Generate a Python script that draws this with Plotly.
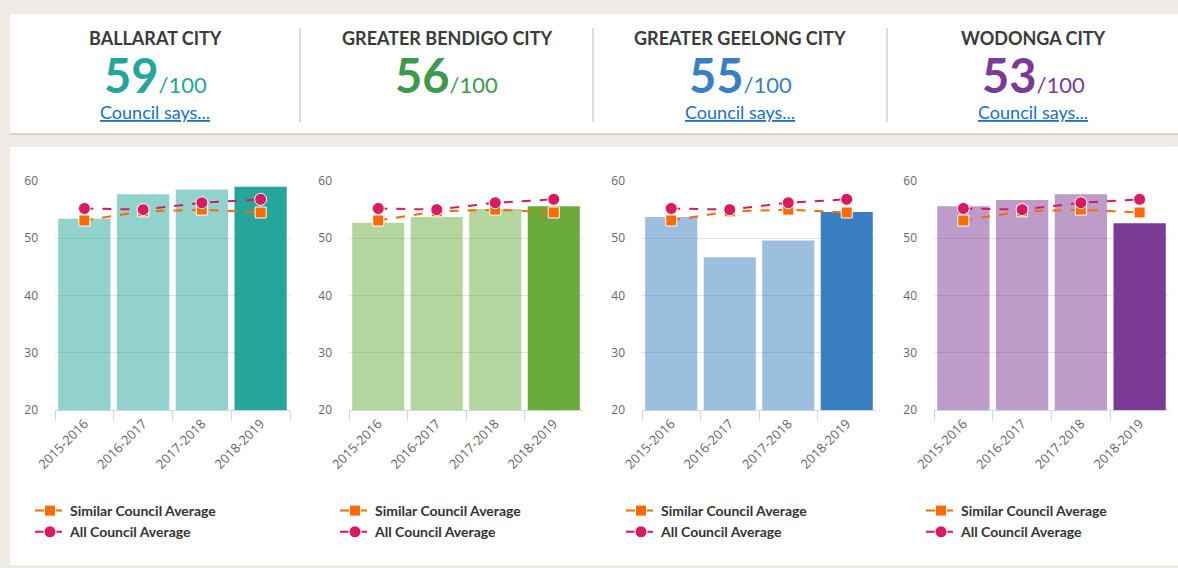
import plotly.graph_objects as go

years = ["2015-2016", "2016-2017", "2017-2018", "2018-2019"]
councils = ["BALLARAT CITY", "GREATER BENDIGO CITY", "GREATER GEELONG CITY", "WODONGA CITY"]
scores = [59, 56, 55, 53]
has_link = [True, False, True, True]

ballarat = [53.4, 57.7, 58.5, 59.0]
bendigo = [52.7, 53.7, 55.1, 55.6]
geelong = [53.7, 46.7, 49.6, 54.6]
wodonga = [55.6, 56.7, 57.7, 52.6]
council_values = [ballarat, bendigo, geelong, wodonga]

similar_avg = [53.1, 54.7, 55.0, 54.5]
all_avg = [55.2, 55.0, 56.2, 56.8]

dark_colors = ["#26a69a", "#6aab3c", "#3a7fc1", "#7b3a96"]
light_colors = ["rgba(38,166,154,0.5)", "rgba(106,171,60,0.5)",
                "rgba(58,127,193,0.5)", "rgba(123,58,150,0.5)"]
score_colors = ["#26a69a", "#3d9a4a", "#3a7fc1", "#7b3a96"]

W, H = 1178, 568
px_x = lambda v: v / W
px_y = lambda v: 1 - v / H

x_domains = [(55, 290), (349, 583), (642, 876), (934, 1169)]
header_cx = [155, 447, 740, 1033]
legend_x = [30, 335, 621, 921]

fig = go.Figure()
legend_names = ["legend", "legend2", "legend3", "legend4"]

for i in range(4):
    xa = "x" if i == 0 else f"x{i+1}"
    ya = "y" if i == 0 else f"y{i+1}"
    bar_colors = [light_colors[i]] * 3 + [dark_colors[i]]
    fig.add_trace(go.Bar(x=years, y=council_values[i], marker=dict(color=bar_colors, line=dict(width=0)),
                         xaxis=xa, yaxis=ya, showlegend=False, hoverinfo="y"))
    fig.add_trace(go.Scatter(x=years, y=similar_avg, mode="lines+markers",
                             name="<b>Similar Council Average</b>",
                             line=dict(color="#ff6a00", width=2, dash="dash"),
                             marker=dict(symbol="square", size=11, color="#ff6a00",
                                         line=dict(color="white", width=1)),
                             xaxis=xa, yaxis=ya, legend=legend_names[i]))
    fig.add_trace(go.Scatter(x=years, y=all_avg, mode="lines+markers",
                             name="<b>All Council Average</b>",
                             line=dict(color="#d81b60", width=2, dash="dash"),
                             marker=dict(symbol="circle", size=12, color="#d81b60",
                                         line=dict(color="white", width=1)),
                             xaxis=xa, yaxis=ya, legend=legend_names[i]))

layout = dict(
    width=W, height=H, margin=dict(l=0, r=0, t=0, b=0, pad=0, autoexpand=False),
    paper_bgcolor="#eeebe4", plot_bgcolor="rgba(0,0,0,0)",
    bargap=0.11, showlegend=True,
    font=dict(family="Lato, Open Sans, sans-serif", color="#333"),
)
for i in range(4):
    xk = "xaxis" if i == 0 else f"xaxis{i+1}"
    yk = "yaxis" if i == 0 else f"yaxis{i+1}"
    ya = "y" if i == 0 else f"y{i+1}"
    xa = "x" if i == 0 else f"x{i+1}"
    layout[xk] = dict(domain=[px_x(x_domains[i][0]), px_x(x_domains[i][1])], anchor=ya,
                      showline=True, linecolor="#ccd6eb", linewidth=1, automargin=False,
                      ticks="outside", tickson="boundaries", ticklen=10, tickcolor="#ccd6eb",
                      tickangle=-45, tickfont=dict(size=13, color="#666", family="Open Sans, sans-serif"),
                      showgrid=False, fixedrange=True)
    layout[yk] = dict(domain=[px_y(410), px_y(181)], anchor=xa, range=[20, 60], automargin=False,
                      tickvals=[20, 30, 40, 50, 60], showgrid=True, gridcolor="#e3e3e3",
                      gridwidth=1, zeroline=False, showline=False,
                      tickfont=dict(size=12, color="#666", family="Open Sans, sans-serif"),
                      ticks="", ticklabelstandoff=16, fixedrange=True)
    lk = legend_names[i]
    layout[lk] = dict(x=px_x(legend_x[i]), y=px_y(495), xanchor="left", yanchor="top",
                      bgcolor="rgba(0,0,0,0)", font=dict(size=14, color="#333", family="Lato, sans-serif"),
                      tracegroupgap=0, itemwidth=30, orientation="v")

fig.update_layout(**layout)

shapes = []
shapes.append(dict(type="rect", xref="paper", yref="paper", x0=px_x(10), x1=1, y0=px_y(134), y1=px_y(14),
                   fillcolor="white", line=dict(width=0), layer="below"))
shapes.append(dict(type="line", xref="paper", yref="paper", x0=px_x(10), x1=1, y0=px_y(134), y1=px_y(134),
                   line=dict(color="#d9d6cf", width=2), layer="below"))
shapes.append(dict(type="rect", xref="paper", yref="paper", x0=px_x(10), x1=1, y0=px_y(565), y1=px_y(147),
                   fillcolor="white", line=dict(width=0), layer="below"))
for xd in [300, 593, 887]:
    shapes.append(dict(type="line", xref="paper", yref="paper", x0=px_x(xd), x1=px_x(xd),
                       y0=px_y(122), y1=px_y(28), line=dict(color="#dcdcdc", width=2), layer="below"))
fig.update_layout(shapes=shapes)

annotations = []
for i in range(4):
    cx = px_x(header_cx[i])
    annotations.append(dict(xref="paper", yref="paper", x=cx, y=px_y(38), text=f"<b>{councils[i]}</b>",
                            showarrow=False, font=dict(size=18, color="#3a3a3a", family="Lato, sans-serif"),
                            xanchor="center", yanchor="middle"))
    annotations.append(dict(xref="paper", yref="paper", x=cx, y=px_y(75),
                            text=f"<b><span style='font-size:47px'>{scores[i]}</span></b><span style='font-size:22px'>/100</span>",
                            showarrow=False, font=dict(size=22, color=score_colors[i], family="Lato, sans-serif"),
                            xanchor="center", yanchor="middle"))
    if has_link[i]:
        annotations.append(dict(xref="paper", yref="paper", x=cx, y=px_y(112),
                                text="<span style='text-decoration:underline'>Council says...</span>",
                                showarrow=False, font=dict(size=18, color="#1a6fc4", family="Lato, sans-serif"),
                                xanchor="center", yanchor="middle"))
fig.update_layout(annotations=annotations)

fig.write_html("out.html", config={"displayModeBar": False},
               post_script="document.body.style.margin='0';document.body.style.overflow='hidden';document.body.style.background='#eeebe4';")
